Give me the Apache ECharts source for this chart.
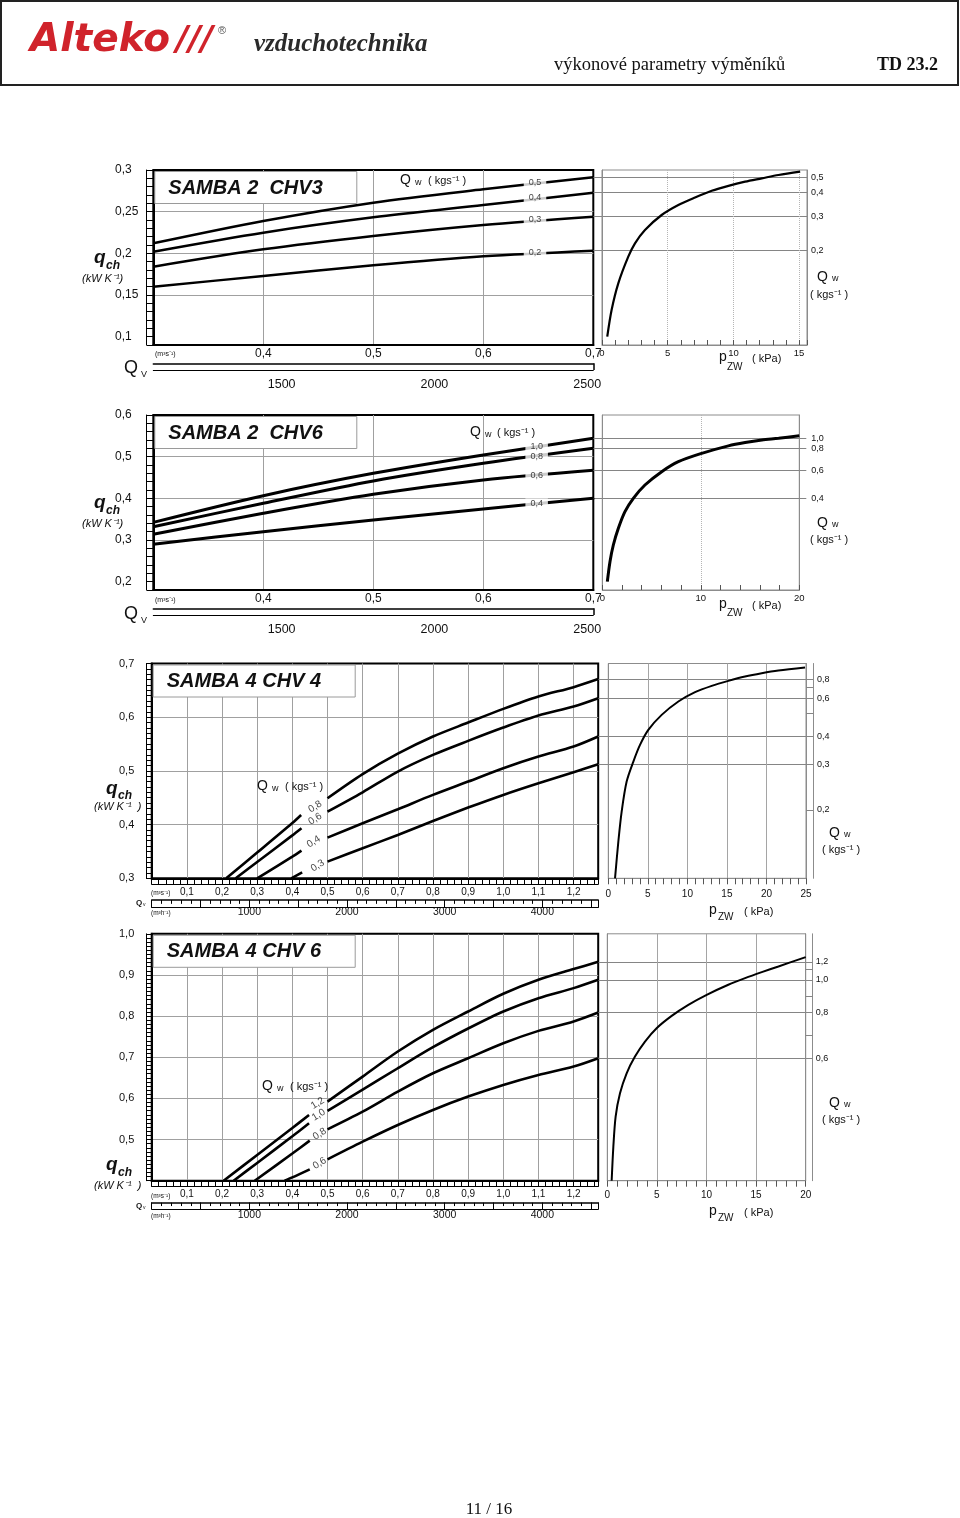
<!DOCTYPE html>
<html><head><meta charset="utf-8">
<script src="https://cdn.jsdelivr.net/npm/echarts@6/dist/echarts.min.js"></script>
<style>html,body{margin:0;padding:0;background:#fff}#c{width:960px;height:1518px}</style>
</head><body><div id="c"></div><script>
// ================= DATA =================
// ---- Panel 1 : SAMBA 2 CHV3 ----
const p1Title = 'SAMBA 2  CHV3';
const p1Qv = [0.3, 0.4, 0.5, 0.6, 0.7];                 // m3/s
const p1Qw05 = [0.212, 0.2388, 0.2608, 0.2768, 0.2912]; // qch kW/K
const p1Qw04 = [0.202, 0.2248, 0.2432, 0.258, 0.2728];
const p1Qw03 = [0.184, 0.2048, 0.2208, 0.234, 0.244];
const p1Qw02 = [0.160, 0.1728, 0.1856, 0.1964, 0.2032];
const p1QwNames = ['0,5', '0,4', '0,3', '0,2'];
const p1LabelX = [0.647, 0.647, 0.647, 0.647];
const p1LabelY = [0.2844, 0.2664, 0.2409, 0.2008];
const p1Pzw = [0.4, 0.73, 1.24, 2.0, 2.51, 3.27, 4.54, 5.81, 7.08, 8.35, 9.62, 10.89, 12.16, 13.43, 15.08];
const p1PzwQ = [0.1, 0.132, 0.164, 0.196, 0.212, 0.228, 0.246, 0.258, 0.267, 0.275, 0.281, 0.286, 0.29, 0.294, 0.298];
const p1YTicks = [0.1, 0.15, 0.2, 0.25, 0.3];
const p1YGrid = [0.15, 0.2, 0.25];
const p1XTicks = [0.4, 0.5, 0.6, 0.7];
const p1XGrid = [0.4, 0.5, 0.6];
const p1M3hTicks = [1500, 2000, 2500];

// ---- Panel 2 : SAMBA 2 CHV6 ----
const p2Title = 'SAMBA 2  CHV6';
const p2Qv = [0.3, 0.4, 0.5, 0.6, 0.7];
const p2Qw10 = [0.3424, 0.4064, 0.46, 0.504, 0.544];
const p2Qw08 = [0.332, 0.388, 0.4416, 0.484, 0.52];
const p2Qw06 = [0.3136, 0.364, 0.4096, 0.444, 0.4672];
const p2Qw04 = [0.2896, 0.32, 0.348, 0.3744, 0.4];
const p2QwNames = ['1,0', '0,8', '0,6', '0,4'];
const p2LabelX = [0.6485, 0.6485, 0.6485, 0.6485];
const p2LabelY = [0.5234, 0.5015, 0.4553, 0.3868];
const p2Pzw = [0.51, 0.78, 1.12, 1.63, 2.3, 3.15, 4.33, 6.03, 7.72, 10.09, 12.8, 14.5, 16.2, 17.9, 20.0];
const p2PzwQ = [0.2, 0.248, 0.288, 0.328, 0.368, 0.4, 0.432, 0.464, 0.488, 0.508, 0.526, 0.534, 0.54, 0.544, 0.55];
const p2YTicks = [0.2, 0.3, 0.4, 0.5, 0.6];
const p2YGrid = [0.3, 0.4, 0.5];
const p2XTicks = [0.4, 0.5, 0.6, 0.7];
const p2XGrid = [0.4, 0.5, 0.6];
const p2M3hTicks = [1500, 2000, 2500];

// ---- Panel 3 : SAMBA 4 CHV 4 ----  (null = gap for the rotated label)
const p3Title = 'SAMBA 4 CHV 4';
const p3Qw08x = [0.212, 0.3, 0.4, 0.425, null, 0.5, 0.6, 0.7, 0.8, 0.9, 1.0, 1.1, 1.2, 1.27];
const p3Qw08y = [0.3, 0.348, 0.403, 0.418, null, 0.449, 0.494, 0.532, 0.564, 0.590, 0.6155, 0.6385, 0.656, 0.671];
const p3Qw06x = [0.239, 0.3, 0.4, 0.426, null, 0.5, 0.6, 0.7, 0.8, 0.9, 1.0, 1.1, 1.2, 1.27];
const p3Qw06y = [0.3, 0.3304, 0.3799, 0.3932, null, 0.4242, 0.4602, 0.4988, 0.5298, 0.5559, 0.5807, 0.6031, 0.6199, 0.6354];
const p3Qw04x = [0.3, 0.4, 0.426, null, 0.5, 0.6, 0.7, 0.8, 0.9, 1.0, 1.1, 1.2, 1.27];
const p3Qw04y = [0.3, 0.3404, 0.3516, null, 0.3758, 0.4025, 0.4286, 0.4553, 0.4801, 0.505, 0.5267, 0.5453, 0.564];
const p3Qw03x = [0.397, 0.428, null, 0.5, 0.6, 0.7, 0.8, 0.9, 1.0, 1.1, 1.2, 1.27];
const p3Qw03y = [0.3, 0.3112, null, 0.331, 0.3559, 0.3807, 0.4068, 0.4317, 0.4553, 0.477, 0.4975, 0.5124];
const p3QwNames = ['0,8', '0,6', '0,4', '0,3'];
const p3LabelX = [0.465, 0.465, 0.4604, 0.4718];
const p3LabelY = [0.4335, 0.4105, 0.3682, 0.3235];
const p3Pzw = [0.85, 1.27, 1.69, 2.32, 3.17, 4.01, 5.06, 6.75, 8.86, 10.97, 13.08, 15.18, 17.29, 19.40, 21.51, 24.88];
const p3PzwQ = [0.3, 0.3683, 0.4242, 0.4801, 0.5174, 0.5484, 0.5764, 0.6043, 0.6292, 0.6466, 0.6584, 0.6677, 0.6758, 0.682, 0.687, 0.6925];
const p3QwExtraTicks = [0.6553, 0.6075];
const p3QwExtraLabels = ['0,2'];
const p3QwExtraLabelPos = [0.4273];
const p3YTicks = [0.3, 0.4, 0.5, 0.6, 0.7];
const p3YGrid = [0.4, 0.5, 0.6];
const p3XTicks = [0.1, 0.2, 0.3, 0.4, 0.5, 0.6, 0.7, 0.8, 0.9, 1.0, 1.1, 1.2];
const p3XGrid = [0.1, 0.2, 0.3, 0.4, 0.5, 0.6, 0.7, 0.8, 0.9, 1.0, 1.1, 1.2];
const p3M3hTicks = [1000, 2000, 3000, 4000];

// ---- Panel 4 : SAMBA 4 CHV 6 ----
const p4Title = 'SAMBA 4 CHV 6';
const p4Qw12x = [0.2045, 0.3, 0.4, 0.4475, null, 0.5, 0.6, 0.7, 0.8, 0.9, 1.0, 1.1, 1.2, 1.27];
const p4Qw12y = [0.4, 0.4624, 0.528, 0.5598, null, 0.5922, 0.653, 0.7139, 0.7666, 0.8112, 0.8542, 0.8882, 0.9142, 0.932];
const p4Qw10x = [0.233, 0.3, 0.4, 0.4475, null, 0.5, 0.6, 0.7, 0.8, 0.9, 1.0, 1.1, 1.2, 1.27];
const p4Qw10y = [0.4, 0.4432, 0.508, 0.5395, null, 0.5695, 0.6214, 0.6733, 0.7244, 0.7698, 0.8112, 0.8436, 0.868, 0.8882];
const p4Qw08x = [0.293, 0.4, 0.4495, null, 0.5, 0.6, 0.7, 0.8, 0.9, 1.0, 1.1, 1.2, 1.27];
const p4Qw08y = [0.4, 0.466, 0.4973, null, 0.5249, 0.5679, 0.6165, 0.6611, 0.6977, 0.7341, 0.7641, 0.7869, 0.8087];
const p4Qw06x = [0.378, 0.4, 0.4495, null, 0.5, 0.6, 0.7, 0.8, 0.9, 1.0, 1.1, 1.2, 1.27];
const p4Qw06y = [0.4, 0.408, 0.4276, null, 0.4519, 0.4949, 0.5354, 0.5719, 0.6044, 0.6328, 0.6571, 0.6774, 0.6977];
const p4QwNames = ['1,2', '1,0', '0,8', '0,6'];
const p4LabelX = [0.4718, 0.4747, 0.4776, 0.4776];
const p4LabelY = [0.588, 0.5597, 0.5135, 0.4423];
const p4Pzw = [0.44, 0.61, 0.84, 1.28, 1.95, 2.79, 3.80, 4.97, 6.49, 8.17, 10.02, 12.2, 13.89, 15.57, 17.25, 20.0];
const p4PzwQ = [0.4, 0.4827, 0.5557, 0.6125, 0.6611, 0.7017, 0.7382, 0.7706, 0.8006, 0.8274, 0.8517, 0.8761, 0.8923, 0.9069, 0.9207, 0.9434];
const p4QwExtraTicks = [0.9142, 0.8477, 0.7544];
const p4YTicks = [0.5, 0.6, 0.7, 0.8, 0.9, 1.0];
const p4YGrid = [0.5, 0.6, 0.7, 0.8, 0.9];
const p4XTicks = [0.1, 0.2, 0.3, 0.4, 0.5, 0.6, 0.7, 0.8, 0.9, 1.0, 1.1, 1.2];
const p4XGrid = [0.1, 0.2, 0.3, 0.4, 0.5, 0.6, 0.7, 0.8, 0.9, 1.0, 1.1, 1.2];
const p4M3hTicks = [1000, 2000, 3000, 4000];

// ================= BUILD =================
const FONT = '"Liberation Sans", Arial, Helvetica, sans-serif';
const SERIF = '"Liberation Serif", "Times New Roman", serif';
const M3H_PER_M3S = 3600;
const GRAY = '#a0a0a0';
const QWGRAY = '#858585';
const FRAMEGRAY = '#8c8c8c';

const grids = [], xAxis = [], yAxis = [], series = [], title = [], graphic = [];
function push(list, o) { list.push(o); return list.length - 1; }
function dec(v, d) { return (d == null ? String(Math.round(v * 1000) / 1000) : v.toFixed(d)).replace('.', ','); }
function pairs(xs, ys) { return xs.map((x, i) => (x == null || ys[i] == null) ? ['-', '-'] : [x, ys[i]]); }
function nearestIdx(arr, v) { let b = 0; arr.forEach((a, i) => { if (Math.abs(a - v) < Math.abs(arr[b] - v)) b = i; }); return b; }
const OFF = { show: false };

function buildPanel(P, D) {
  const L = P.L, R = P.R;
  const gL = push(grids, { left: L.left, top: P.top, width: L.width, height: P.height, show: true, borderColor: '#000', borderWidth: 2 });
  const gR = push(grids, { left: R.left, top: P.top, width: R.width, height: P.height, show: true, borderColor: FRAMEGRAY, borderWidth: 1 });

  // ---- left chart: y axes ----
  const yMain = push(yAxis, { type: 'value', gridIndex: gL, position: 'left', min: L.yMin, max: L.yMax, interval: L.yRuler,
    axisLine: { show: true, onZero: false, lineStyle: { color: '#000', width: 2 } },
    axisTick: { show: true, length: L.yRulerLen, lineStyle: { color: '#000', width: 1 } },
    axisLabel: { show: true, customValues: D.yTicks, formatter: v => dec(v, L.yDec), align: 'left', margin: L.left - L.yLabLeft,
      fontSize: L.yFont, fontFamily: FONT, color: '#111', hideOverlap: false },
    splitLine: OFF });
  push(yAxis, { type: 'value', gridIndex: gL, position: 'left', offset: L.yRulerLen, min: L.yMin, max: L.yMax,
    axisLine: { show: true, onZero: false, lineStyle: { color: '#000', width: 1 } }, axisTick: OFF, axisLabel: OFF, splitLine: OFF });
  push(yAxis, { type: 'value', gridIndex: gL, position: 'left', min: L.yMin, max: L.yMax,
    axisLine: OFF, axisTick: { show: false, customValues: D.yGrid }, axisLabel: OFF,
    splitLine: { show: true, lineStyle: { color: GRAY, width: 1 } } });

  // ---- left chart: x axes ----
  const xMainOpt = { type: 'value', gridIndex: gL, position: 'bottom', min: L.xMin, max: L.xMax,
    axisLine: { show: true, onZero: false, lineStyle: { color: '#000', width: 2 } },
    axisTick: { show: !!L.xRuler, length: L.xRulerLen || 5, lineStyle: { color: '#000', width: 1 } },
    axisLabel: { show: true, customValues: D.xTicks, formatter: v => dec(v, L.xDec), margin: L.xLabMargin,
      fontSize: L.xFont, fontFamily: FONT, color: '#111', hideOverlap: false },
    splitLine: OFF };
  if (L.xRuler) xMainOpt.interval = L.xRuler;
  const xMain = push(xAxis, xMainOpt);
  push(xAxis, { type: 'value', gridIndex: gL, position: 'bottom', min: L.xMin, max: L.xMax,
    axisLine: OFF, axisTick: { show: false, customValues: D.xGrid }, axisLabel: OFF,
    splitLine: { show: true, lineStyle: { color: GRAY, width: 1 } } });
  if (L.xRuler) push(xAxis, { type: 'value', gridIndex: gL, position: 'bottom', offset: L.xRulerLen, min: L.xMin, max: L.xMax,
    axisLine: { show: true, onZero: false, lineStyle: { color: '#000', width: 1 } }, axisTick: OFF, axisLabel: OFF, splitLine: OFF });

  // ---- Qv bar in m3/h ----
  const hMin = L.xMin * M3H_PER_M3S, hMax = L.xMax * M3H_PER_M3S;
  const barOpt = { type: 'value', gridIndex: gL, position: 'bottom', offset: L.barOffset, min: hMin, max: hMax,
    axisLine: { show: true, onZero: false, lineStyle: { color: '#000', width: 1.5 } },
    axisTick: L.barTick ? { show: true, length: L.barH, lineStyle: { color: '#000', width: 1 } }
                        : { show: true, customValues: [hMax], length: L.barH, lineStyle: { color: '#000', width: 1.5 } },
    axisLabel: { show: true, customValues: D.m3hTicks, formatter: v => String(v), margin: L.barLabMargin,
      fontSize: L.barFont, fontFamily: FONT, color: '#111', hideOverlap: false },
    splitLine: OFF };
  if (L.barTick) barOpt.interval = L.barTick;
  push(xAxis, barOpt);
  if (L.barMinor) push(xAxis, { type: 'value', gridIndex: gL, position: 'bottom', offset: L.barOffset, min: hMin, max: hMax, interval: L.barMinor,
    axisLine: OFF, axisTick: { show: true, length: L.barH * 0.5, lineStyle: { color: '#000', width: 1 } }, axisLabel: OFF, splitLine: OFF });
  push(xAxis, { type: 'value', gridIndex: gL, position: 'bottom', offset: L.barOffset + L.barH, min: hMin, max: hMax,
    axisLine: { show: true, onZero: false, lineStyle: { color: '#000', width: 1 } }, axisTick: OFF, axisLabel: OFF, splitLine: OFF });

  // ---- right chart axes ----
  const xR = push(xAxis, { type: 'value', gridIndex: gR, position: 'bottom', min: 0, max: R.pMax, interval: R.pInterval,
    axisLine: { show: true, onZero: false, lineStyle: { color: FRAMEGRAY, width: 1 } }, axisTick: OFF,
    axisLabel: { show: true, formatter: v => (Math.abs(v / R.pInterval - Math.round(v / R.pInterval)) < 1e-6 ? String(Math.round(v)) : ''),
      margin: R.xLabMargin, fontSize: R.xFont, fontFamily: FONT, color: '#111', hideOverlap: false },
    splitLine: { show: true, lineStyle: { color: R.splitColor, type: R.splitType, width: 1 } } });
  push(xAxis, { type: 'value', gridIndex: gR, position: 'bottom', min: 0, max: R.pMax, interval: R.pRuler,
    axisLine: OFF, axisTick: { show: true, inside: R.tickInside, length: R.tickLen, lineStyle: { color: '#555', width: 1 } },
    axisLabel: OFF, splitLine: OFF });

  const ends = D.curves.map(c => c.y[c.y.length - 1]);
  const yR = push(yAxis, { type: 'value', gridIndex: gR, position: 'left', min: L.yMin, max: L.yMax,
    axisLine: { show: true, onZero: false, lineStyle: { color: FRAMEGRAY, width: 1 } },
    axisTick: { show: true, customValues: ends, length: R.left - (L.left + L.width), lineStyle: { color: QWGRAY, width: 1 } },
    axisLabel: OFF, splitLine: { show: true, lineStyle: { color: QWGRAY, width: 1 } } });
  const labVals = ends.concat(D.qwExtraLabelPos || []);
  const labTxt = D.qwNames.concat(D.qwExtraLabels || []);
  push(yAxis, { type: 'value', gridIndex: gR, position: 'right', min: L.yMin, max: L.yMax,
    axisLine: { show: true, onZero: false, lineStyle: { color: FRAMEGRAY, width: 1 } },
    axisTick: { show: R.qwTickLen > 0, customValues: labVals.concat(D.qwExtraTicks || []), length: R.qwTickLen || 1, lineStyle: { color: QWGRAY, width: 1 } },
    axisLabel: { show: true, customValues: labVals, formatter: v => labTxt[nearestIdx(labVals, v)], margin: R.qwLabMargin,
      fontSize: 9, fontFamily: FONT, color: '#111', hideOverlap: false },
    splitLine: OFF });
  if (R.outer) push(yAxis, { type: 'value', gridIndex: gR, position: 'right', offset: R.qwTickLen, min: L.yMin, max: L.yMax,
    axisLine: { show: true, onZero: false, lineStyle: { color: FRAMEGRAY, width: 1 } }, axisTick: OFF, axisLabel: OFF, splitLine: OFF });

  // ---- series ----
  D.curves.forEach(c => series.push({ type: 'line', xAxisIndex: xMain, yAxisIndex: yMain, data: pairs(c.x, c.y),
    symbol: 'none', smooth: 0.3, connectNulls: false, lineStyle: { color: '#000', width: L.curveW }, z: 3, silent: true }));
  series.push({ type: 'scatter', xAxisIndex: xMain, yAxisIndex: yMain, z: 5, silent: true, symbolSize: 1,
    itemStyle: { color: 'rgba(0,0,0,0)' },
    data: D.labX.map((x, i) => ({ name: D.qwNames[i], value: [x, D.labY[i]] })),
    label: { show: true, position: 'inside', formatter: p => p.name, fontSize: L.labFont, fontFamily: FONT, color: '#111',
      backgroundColor: L.labBg || 'transparent', padding: [1, 5], rotate: L.labRot || 0 } });
  series.push({ type: 'line', xAxisIndex: xR, yAxisIndex: yR, data: pairs(D.p, D.pq), symbol: 'none', smooth: 0.3,
    lineStyle: { color: '#000', width: R.curveW }, z: 3, silent: true });

  title.push({ text: P.title, left: L.left + 1, top: P.top + 1, padding: [6, 34, 5, 14], borderColor: '#9a9a9a', borderWidth: 1,
    backgroundColor: '#fff', textStyle: { fontFamily: FONT, fontSize: 20, fontStyle: 'italic', fontWeight: 'bold', color: '#111', lineHeight: 22 } });
}

const smallL = { left: 153.3, width: 440, xMin: 0.3, xMax: 0.7, yRulerLen: 6.6, yLabLeft: 115, yFont: 12, xDec: 1, xFont: 12,
  xLabMargin: 3, barOffset: 18.3, barH: 6.7, barFont: 12.5, barLabMargin: 15, labFont: 9, labBg: '#fff' };
const bigL = { left: 151.7, width: 446.5, xMin: 0, xMax: 1.27, yRuler: 0.01, yRulerLen: 5.7, yLabLeft: 119, yFont: 11, yDec: 1,
  xRuler: 0.02, xRulerLen: 6, xDec: 1, xFont: 10, xLabMargin: 8.5, barTick: 500, barMinor: 100, barFont: 10.5, barLabMargin: 7,
  curveW: 2.6, labFont: 10, labRot: 32 };

buildPanel({ title: p1Title, top: 170, height: 175,
  L: Object.assign({}, smallL, { yMin: 0.09, yMax: 0.3, yRuler: 0.01, yDec: null, curveW: 2.5 }),
  R: { left: 602, width: 205, pMax: 15.6, pInterval: 5, pRuler: 1, tickInside: true, tickLen: 5, xFont: 9.5, xLabMargin: 3,
       splitType: 'dotted', splitColor: '#b5b5b5', qwTickLen: 0, qwLabMargin: 4, outer: false, curveW: 2.2 } },
  { curves: [{ x: p1Qv, y: p1Qw05 }, { x: p1Qv, y: p1Qw04 }, { x: p1Qv, y: p1Qw03 }, { x: p1Qv, y: p1Qw02 }],
    qwNames: p1QwNames, labX: p1LabelX, labY: p1LabelY, p: p1Pzw, pq: p1PzwQ,
    yTicks: p1YTicks, yGrid: p1YGrid, xTicks: p1XTicks, xGrid: p1XGrid, m3hTicks: p1M3hTicks });

buildPanel({ title: p2Title, top: 415, height: 175,
  L: Object.assign({}, smallL, { yMin: 0.18, yMax: 0.6, yRuler: 0.02, yDec: 1, curveW: 3 }),
  R: { left: 602.3, width: 197, pMax: 20, pInterval: 10, pRuler: 2, tickInside: true, tickLen: 5, xFont: 9.5, xLabMargin: 3,
       splitType: 'dotted', splitColor: '#b5b5b5', qwTickLen: 7, qwLabMargin: 12, outer: false, curveW: 3 } },
  { curves: [{ x: p2Qv, y: p2Qw10 }, { x: p2Qv, y: p2Qw08 }, { x: p2Qv, y: p2Qw06 }, { x: p2Qv, y: p2Qw04 }],
    qwNames: p2QwNames, labX: p2LabelX, labY: p2LabelY, p: p2Pzw, pq: p2PzwQ,
    yTicks: p2YTicks, yGrid: p2YGrid, xTicks: p2XTicks, xGrid: p2XGrid, m3hTicks: p2M3hTicks });

buildPanel({ title: p3Title, top: 663.5, height: 214.8,
  L: Object.assign({}, bigL, { yMin: 0.3, yMax: 0.7, barOffset: 21.7, barH: 7.7 }),
  R: { left: 608.3, width: 197.7, pMax: 25, pInterval: 5, pRuler: 1, tickInside: false, tickLen: 6, xFont: 10, xLabMargin: 11,
       splitType: 'solid', splitColor: '#a5a5a5', qwTickLen: 7, qwLabMargin: 11, outer: true, curveW: 2 } },
  { curves: [{ x: p3Qw08x, y: p3Qw08y }, { x: p3Qw06x, y: p3Qw06y }, { x: p3Qw04x, y: p3Qw04y }, { x: p3Qw03x, y: p3Qw03y }],
    qwNames: p3QwNames, labX: p3LabelX, labY: p3LabelY, p: p3Pzw, pq: p3PzwQ,
    qwExtraTicks: p3QwExtraTicks, qwExtraLabels: p3QwExtraLabels, qwExtraLabelPos: p3QwExtraLabelPos,
    yTicks: p3YTicks, yGrid: p3YGrid, xTicks: p3XTicks, xGrid: p3XGrid, m3hTicks: p3M3hTicks });

buildPanel({ title: p4Title, top: 933.8, height: 246.9,
  L: Object.assign({}, bigL, { yMin: 0.4, yMax: 1.0, barOffset: 22, barH: 6.7 }),
  R: { left: 607.3, width: 198.4, pMax: 20, pInterval: 5, pRuler: 1, tickInside: false, tickLen: 6, xFont: 10, xLabMargin: 10,
       splitType: 'solid', splitColor: '#a5a5a5', qwTickLen: 7, qwLabMargin: 10, outer: true, curveW: 2 } },
  { curves: [{ x: p4Qw12x, y: p4Qw12y }, { x: p4Qw10x, y: p4Qw10y }, { x: p4Qw08x, y: p4Qw08y }, { x: p4Qw06x, y: p4Qw06y }],
    qwNames: p4QwNames, labX: p4LabelX, labY: p4LabelY, p: p4Pzw, pq: p4PzwQ, qwExtraTicks: p4QwExtraTicks,
    yTicks: p4YTicks, yGrid: p4YGrid, xTicks: p4XTicks, xGrid: p4XGrid, m3hTicks: p4M3hTicks });

// ---- texts ----
function T(x, y, text, size, extra) {
  graphic.push({ type: 'text', x: x, y: y, silent: true, z: 10,
    style: Object.assign({ text: text, fontSize: size, fontFamily: FONT, fill: '#111', verticalAlign: 'middle', align: 'left' }, extra || {}) });
}
const BI = { fontWeight: 'bold', fontStyle: 'italic' };
const IT = { fontStyle: 'italic' };

graphic.push({ type: 'rect', silent: true, shape: { x: 1, y: 1, width: 957, height: 84 }, style: { fill: 'none', stroke: '#222', lineWidth: 2 } });
T(30, 41, 'Alteko', 39, { fontFamily: '"DejaVu Sans", sans-serif', fontWeight: 'bold', fontStyle: 'italic', fill: '#d0232b' });
T(176, 41, '///', 34, { fontFamily: '"DejaVu Sans", sans-serif', fontWeight: 'bold', fontStyle: 'italic', fill: '#d0232b' });
T(218, 31, '®', 11, { fill: '#555' });
T(254, 45, 'vzduchotechnika', 25, { fontFamily: SERIF, fontStyle: 'italic', fontWeight: 'bold', fill: '#2a2a2a' });
T(554, 65, 'výkonové parametry výměníků', 18.5, { fontFamily: SERIF });
T(877, 65, 'TD 23.2', 18, { fontFamily: SERIF, fontWeight: 'bold' });
T(489, 1510, '11 / 16', 17, { fontFamily: SERIF, align: 'center' });

// panel 1
T(94, 258, 'q', 19, BI); T(106, 266, 'ch', 12, BI); T(82, 279, '(kW K⁻¹)', 11, IT);
T(400, 180, 'Q', 14); T(415, 183, 'w', 9); T(428, 181, '( kgs⁻¹ )', 11);
T(155, 354, '(m³s⁻¹)', 7);
T(124, 368, 'Q', 18); T(141, 375, 'V', 9);
T(817, 277, 'Q', 14); T(832, 279, 'w', 9); T(810, 295, '( kgs⁻¹ )', 11);
T(719, 357, 'p', 14); T(727, 367, 'ZW', 10); T(752, 359, '( kPa)', 11);
// panel 2
T(94, 503, 'q', 19, BI); T(106, 511, 'ch', 12, BI); T(82, 524, '(kW K⁻¹)', 11, IT);
T(470, 432, 'Q', 14); T(485, 435, 'w', 9); T(497, 433, '( kgs⁻¹ )', 11);
T(155, 600, '(m³s⁻¹)', 7);
T(124, 614, 'Q', 18); T(141, 621, 'V', 9);
T(817, 523, 'Q', 14); T(832, 525, 'w', 9); T(810, 540, '( kgs⁻¹ )', 11);
T(719, 604, 'p', 14); T(727, 613, 'ZW', 10); T(752, 606, '( kPa)', 11);
// panel 3
T(106, 789, 'q', 19, BI); T(118, 796, 'ch', 12, BI); T(94, 807, '(kW K⁻¹  )', 11, IT);
T(257, 786, 'Q', 14); T(272, 789, 'w', 9); T(285, 787, '( kgs⁻¹ )', 11);
T(151, 893, '(m³s⁻¹)', 6.5); T(136, 903, 'Q', 8, { fontWeight: 'bold' }); T(143, 905, 'v', 5); T(151, 913, '(m³h⁻¹)', 6.5);
T(829, 833, 'Q', 14); T(844, 835, 'w', 9); T(822, 850, '( kgs⁻¹ )', 11);
T(709, 910, 'p', 14); T(718, 917, 'ZW', 10); T(744, 912, '( kPa)', 11);
// panel 4
T(106, 1165, 'q', 19, BI); T(118, 1173, 'ch', 12, BI); T(94, 1186, '(kW K⁻¹  )', 11, IT);
T(262, 1086, 'Q', 14); T(277, 1089, 'w', 9); T(290, 1087, '( kgs⁻¹ )', 11);
T(151, 1196, '(m³s⁻¹)', 6.5); T(136, 1206, 'Q', 8, { fontWeight: 'bold' }); T(143, 1208, 'v', 5); T(151, 1216, '(m³h⁻¹)', 6.5);
T(829, 1103, 'Q', 14); T(844, 1105, 'w', 9); T(822, 1120, '( kgs⁻¹ )', 11);
T(709, 1211, 'p', 14); T(718, 1218, 'ZW', 10); T(744, 1213, '( kPa)', 11);

const chart = echarts.init(document.getElementById('c'), null, { renderer: 'canvas' });
chart.setOption({ animation: false, backgroundColor: '#fff', textStyle: { fontFamily: FONT },
  grid: grids, xAxis: xAxis, yAxis: yAxis, series: series, title: title, graphic: graphic });
</script></body></html>
